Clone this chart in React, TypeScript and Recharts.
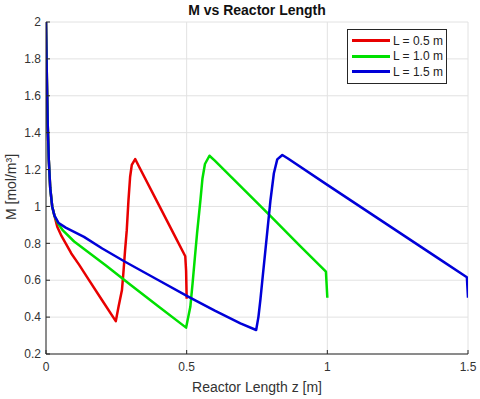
import React from "react"
import { LineChart, Line, XAxis, YAxis, CartesianGrid, Legend } from "recharts"

// values
const zShort = [0, 0.003, 0.006, 0.01, 0.015, 0.022, 0.03, 0.04, 0.055, 0.07, 0.09, 0.118, 0.15, 0.2, 0.248, 0.258, 0.27, 0.275, 0.281, 0.287, 0.293, 0.299, 0.305, 0.317, 0.33, 0.4, 0.46, 0.495, 0.498, 0.5]
const mShort = [2.0, 1.7, 1.45, 1.25, 1.1, 1.0, 0.95, 0.89, 0.84, 0.8, 0.745, 0.683, 0.607, 0.49, 0.378, 0.457, 0.547, 0.638, 0.76, 0.87, 1.03, 1.161, 1.225, 1.257, 1.218, 1.011, 0.834, 0.73, 0.65, 0.5]

const zMid = [0, 0.003, 0.006, 0.01, 0.015, 0.022, 0.03, 0.042, 0.06, 0.1, 0.213, 0.3, 0.4, 0.498, 0.513, 0.521, 0.529, 0.537, 0.549, 0.556, 0.565, 0.581, 0.6, 0.7, 0.8, 0.9, 0.995, 1.0]
const mMid = [2.0, 1.7, 1.45, 1.25, 1.1, 1.0, 0.95, 0.91, 0.87, 0.81, 0.68, 0.575, 0.458, 0.343, 0.456, 0.583, 0.72, 0.855, 1.035, 1.15, 1.23, 1.275, 1.248, 1.097, 0.945, 0.79, 0.646, 0.505]

const zLong = [0, 0.003, 0.006, 0.01, 0.015, 0.022, 0.03, 0.045, 0.07, 0.135, 0.2, 0.281, 0.4, 0.507, 0.6, 0.691, 0.747, 0.755, 0.762, 0.771, 0.78, 0.798, 0.81, 0.822, 0.84, 0.86, 1.0, 1.2, 1.4, 1.496, 1.5]
const mLong = [2.0, 1.7, 1.45, 1.25, 1.1, 1.0, 0.95, 0.91, 0.885, 0.835, 0.772, 0.7, 0.6, 0.51, 0.435, 0.366, 0.33, 0.4, 0.493, 0.63, 0.764, 1.035, 1.18, 1.255, 1.279, 1.26, 1.117, 0.915, 0.713, 0.616, 0.505]

const xTicks = [0, 0.5, 1, 1.5]
const yTicks = [0.2, 0.4, 0.6, 0.8, 1, 1.2, 1.4, 1.6, 1.8, 2]

const toRows = (z: number[], m: number[]) => z.map((v, i) => ({ z: v, M: m[i] }))

const series = [
  { name: "L = 0.5 m", color: "#e80000", data: toRows(zShort, mShort) },
  { name: "L = 1.0 m", color: "#00e000", data: toRows(zMid, mMid) },
  { name: "L = 1.5 m", color: "#0000d8", data: toRows(zLong, mLong) },
]

const FONT = "'Liberation Sans', Arial, Helvetica, sans-serif"
const AXIS = "#262626"

const LegendBox = () => (
  <div
    style={{
      boxSizing: "border-box",
      width: 100,
      border: `1px solid ${AXIS}`,
      background: "#fff",
      padding: "3px 3px 3px 4px",
      fontFamily: FONT,
      fontSize: 12,
      color: "#222",
      whiteSpace: "nowrap",
    }}
  >
    {series.map((s) => (
      <div key={s.name} style={{ display: "flex", alignItems: "center", height: 15.5 }}>
        <div style={{ width: 38, height: 3, background: s.color, marginRight: 3, flexShrink: 0 }} />
        <span>{s.name}</span>
      </div>
    ))}
  </div>
)

export default function App() {
  return (
    <div style={{ position: "absolute", left: 0, top: 0, width: 480, height: 399, background: "#fff", fontFamily: FONT }}>
      <LineChart width={480} height={399} margin={{ top: 22, right: 12, bottom: 0, left: 0 }}>
        <CartesianGrid stroke="#e2e2e2" strokeWidth={1} />
        <XAxis
          dataKey="z"
          type="number"
          domain={[0, 1.5]}
          ticks={xTicks}
          height={45}
          stroke={AXIS}
          tickSize={-4}
          tickMargin={12}
          tick={{ fill: "#333", fontSize: 12, fontFamily: FONT }}
          label={{ value: "Reactor Length z [m]", position: "insideBottom", offset: 7, fill: "#333", fontSize: 14, fontFamily: FONT }}
          allowDataOverflow
        />
        <YAxis
          type="number"
          domain={[0.2, 2]}
          ticks={yTicks}
          width={46}
          stroke={AXIS}
          tickSize={-4}
          tickMargin={9}
          tick={{ fill: "#333", fontSize: 12, fontFamily: FONT }}
          allowDataOverflow
        />
        {series.map((s) => (
          <Line
            key={s.name}
            data={s.data}
            dataKey="M"
            name={s.name}
            type="linear"
            stroke={s.color}
            strokeWidth={2.5}
            strokeLinejoin="round"
            dot={false}
            isAnimationActive={false}
          />
        ))}
        <Legend
          layout="vertical"
          align="center"
          verticalAlign="middle"
          content={() => <LegendBox />}
          wrapperStyle={{ left: 347, top: 29, width: 100, height: "auto" }}
        />
      </LineChart>
      <div
        style={{
          position: "absolute",
          left: 257,
          top: 3,
          transform: "translateX(-50%)",
          fontSize: 14,
          lineHeight: "14px",
          fontWeight: "bold",
          color: "#111",
          whiteSpace: "nowrap",
        }}
      >
        M vs Reactor Length
      </div>
      <div
        style={{
          position: "absolute",
          left: 11,
          top: 187,
          transform: "translate(-50%, -50%) rotate(-90deg)",
          fontSize: 14,
          lineHeight: "14px",
          color: "#333",
          whiteSpace: "nowrap",
        }}
      >
        M [mol/m³]
      </div>
    </div>
  )
}
